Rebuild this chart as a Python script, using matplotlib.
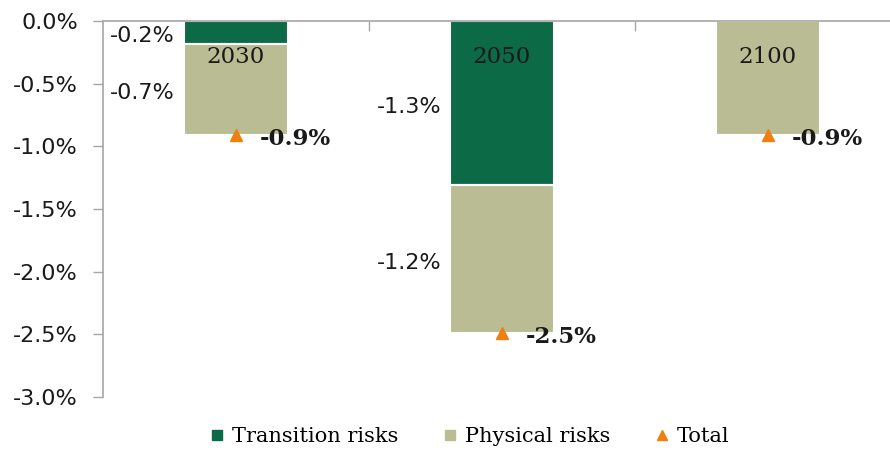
import matplotlib
matplotlib.use("Agg")
import matplotlib.pyplot as plt
from matplotlib.lines import Line2D
import numpy as np

# data (percent)
years = ["2030", "2050", "2100"]
transition = [-0.18, -1.31, 0.0]
physical = [-0.73, -1.18, -0.91]
yticks = [0.0, -0.5, -1.0, -1.5, -2.0, -2.5, -3.0]

c_trans = "#0c6a46"
c_phys = "#babd93"
c_total = "#ef7f0f"
txt = "#1a1a1a"
axcol = "#a6a6a6"

fig = plt.figure(figsize=(8.9, 4.5), dpi=100)
ax = fig.add_axes([103 / 890, 1 - 397 / 450, 798 / 890, 376 / 450])

x = np.arange(len(years))
trans = np.array(transition)
phys = np.array(physical)
total = trans + phys
width = 0.39

ax.bar(x, trans, width, color=c_trans, edgecolor="white", linewidth=1.5)
ax.bar(x, phys, width, bottom=trans, color=c_phys, edgecolor="white", linewidth=1.5)
ax.plot(x, total, linestyle="none", marker="^", markersize=9, color=c_total)

for i in range(len(x)):
    # segment labels, only where the bar has two parts
    if round(trans[i], 1) != 0:
        for base, val in [(0.0, trans[i]), (trans[i], phys[i])]:
            ax.annotate("%.1f%%" % val, (x[i] - width / 2, base + val / 2),
                        xytext=(-6.5, -3), textcoords="offset points",
                        ha="right", va="center", fontsize=16,
                        family="DejaVu Sans", color=txt)
    # total label
    ax.annotate("%.1f%%" % total[i], (x[i], total[i]), xytext=(17, -3),
                textcoords="offset points", ha="left", va="center",
                fontsize=16.5, fontweight="bold", family="DejaVu Serif",
                color=txt)
    # category label just below the zero line
    ax.annotate(years[i], (x[i], 0), xytext=(0, -18), textcoords="offset points",
                ha="center", va="top", fontsize=16.5, family="DejaVu Serif",
                color=txt)

ax.set_xlim(-0.5, 2.5)
ax.set_ylim(-3.0, 0.0)
ax.set_yticks(yticks)
ax.set_yticklabels(["%.1f%%" % v for v in yticks], fontsize=16,
                   family="DejaVu Sans", color=txt)
ax.tick_params(axis="y", length=7, width=1, color=axcol, pad=11)

# category boundary ticks on the zero line
ax.xaxis.tick_top()
ax.set_xticks([0.5, 1.5], labels=[])
ax.tick_params(axis="x", direction="in", length=7, width=1, color=axcol)

for s in ["right", "bottom"]:
    ax.spines[s].set_visible(False)
for s in ["left", "top"]:
    ax.spines[s].set_color(axcol)
    ax.spines[s].set_linewidth(1.2)

handles = [
    Line2D([], [], linestyle="none", marker="s", markersize=7, color=c_trans),
    Line2D([], [], linestyle="none", marker="s", markersize=7, color=c_phys),
    Line2D([], [], linestyle="none", marker="^", markersize=7, color=c_total),
]
fig.legend(handles, ["Transition risks", "Physical risks", "Total"],
           loc="center", bbox_to_anchor=(470 / 890, 1 - 437 / 450), ncol=3,
           frameon=False, handlelength=0.6, handletextpad=0.4,
           columnspacing=2.2, prop={"family": "DejaVu Serif", "size": 15})

fig.savefig("out.png", dpi=100)
